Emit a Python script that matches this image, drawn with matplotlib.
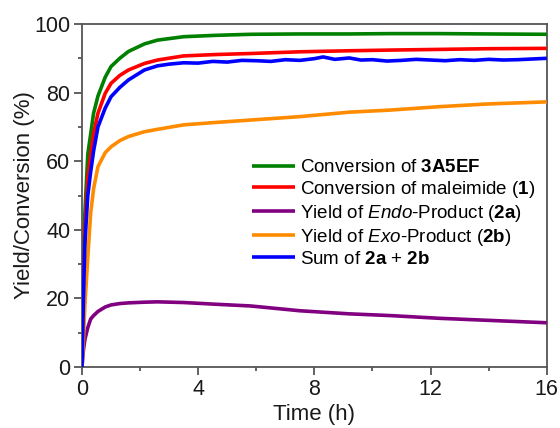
import matplotlib
matplotlib.use("Agg")
import matplotlib.pyplot as plt
from matplotlib.ticker import MultipleLocator

plt.rcParams['font.family'] = ['Liberation Sans', 'DejaVu Sans']
plt.rcParams['mathtext.fontset'] = 'custom'
plt.rcParams['mathtext.rm'] = 'Liberation Sans'
plt.rcParams['mathtext.bf'] = 'Liberation Sans:bold'
plt.rcParams['mathtext.it'] = 'Liberation Sans:italic'

# --- datos ---
t = [0, 0.05, 0.1, 0.2, 0.3, 0.4, 0.55, 0.8, 1.0, 1.3, 1.6, 2.15, 2.6,
     3.5, 4.6, 5.8, 7.5, 9.2, 10.6, 12.3, 14, 16]
conv_3a5ef = [0, 25, 45, 62, 68, 74, 79, 84.5, 87.6, 90, 92, 94.2, 95.3,
              96.3, 96.7, 97.0, 97.1, 97.1, 97.2, 97.2, 97.1, 97.0]
conv_maleimida = [0, 22, 40, 55, 62, 68, 74, 79.8, 82.7, 85, 86.6, 88.5, 89.5,
                  90.7, 91.1, 91.4, 91.9, 92.2, 92.4, 92.6, 92.8, 92.9]
endo = [0, 5, 8, 11.5, 14, 15, 16.2, 17.5, 18.1, 18.5, 18.7, 18.9, 19.0,
        18.8, 18.3, 17.8, 16.4, 15.5, 15.0, 14.2, 13.6, 12.9]
exo = [0, 8, 18, 32, 45, 52, 58.4, 62.5, 64.2, 66, 67.2, 68.6, 69.3,
       70.6, 71.3, 72.0, 73.0, 74.3, 74.9, 75.9, 76.7, 77.3]

t_suma = [0, 0.05, 0.1, 0.2, 0.3, 0.4, 0.55, 0.8, 1.0, 1.3, 1.6, 2.15, 2.6, 3.0, 3.5,
          4.0, 4.5, 5.0, 5.5, 6.0, 6.5, 7.0, 7.5, 8.0, 8.3, 8.7, 9.2, 9.6, 10, 10.5,
          11, 11.5, 12, 12.5, 13, 13.5, 14, 14.5, 15, 15.5, 16]
suma = [0, 20, 36, 50, 57, 63, 70, 75.5, 78.8, 81.5, 83.7, 86.6, 87.8, 88.3, 88.7,
        88.6, 89.1, 88.9, 89.4, 89.3, 89.1, 89.6, 89.4, 89.9, 90.4, 89.7, 90.1, 89.5, 89.6, 89.2,
        89.4, 89.7, 89.5, 89.3, 89.6, 89.4, 89.7, 89.5, 89.6, 89.8, 90.0]

series = [
    (t, conv_3a5ef, '#008000', r'Conversion of $\mathbf{3A5EF}$'),
    (t, conv_maleimida, '#ff0000', r'Conversion of maleimide ($\mathbf{1}$)'),
    (t, endo, '#800080', r'Yield of $\mathit{Endo}$-Product ($\mathbf{2a}$)'),
    (t, exo, '#ff8c00', r'Yield of $\mathit{Exo}$-Product ($\mathbf{2b}$)'),
    (t_suma, suma, '#0000ff', r'Sum of $\mathbf{2a}$ + $\mathbf{2b}$'),
]

fig = plt.figure(figsize=(5.6, 4.28), dpi=100)
ax = fig.add_axes([0.1464, 0.1425, 0.830, 0.8014])

# orden de dibujo: azul debajo del rojo y verde
for idx in [3, 2, 4, 1, 0]:
    x, y, c, lab = series[idx]
    ax.plot(x, y, color=c, lw=2.6, label=lab, zorder=3 + idx, solid_capstyle='butt')

handles, labels = ax.get_legend_handles_labels()
orden = [labels.index(s[3]) for s in series]
ax.legend([handles[i] for i in orden], [labels[i] for i in orden],
          loc='upper left', bbox_to_anchor=(252 / 560, 1 - 159 / 428),
          bbox_transform=fig.transFigure, frameon=False,
          fontsize=13.5, handlelength=2.3, handletextpad=0.27, labelspacing=0.15,
          borderaxespad=0, borderpad=0)

ax.set_xlim(0, 16)
ax.set_ylim(0, 100)
ax.xaxis.set_major_locator(MultipleLocator(4))
ax.xaxis.set_minor_locator(MultipleLocator(2))
ax.yaxis.set_major_locator(MultipleLocator(20))
ax.yaxis.set_minor_locator(MultipleLocator(10))
ax.tick_params(which='both', direction='out', top=False, right=False, labelsize=15.5,
               color='#555555', width=1.3, labelcolor='#1a1a1a')
ax.tick_params(which='major', length=5.5, pad=3)
ax.tick_params(which='minor', length=3)
for s in ax.spines.values():
    s.set_linewidth(1.3)
    s.set_color('#555555')

ax.set_xlabel('Time (h)', fontsize=16, labelpad=3, color='#1a1a1a')
ax.set_ylabel('Yield/Conversion (%)', fontsize=16, labelpad=-1, color='#1a1a1a')

plt.savefig('out.png', dpi=100)
plt.close()
